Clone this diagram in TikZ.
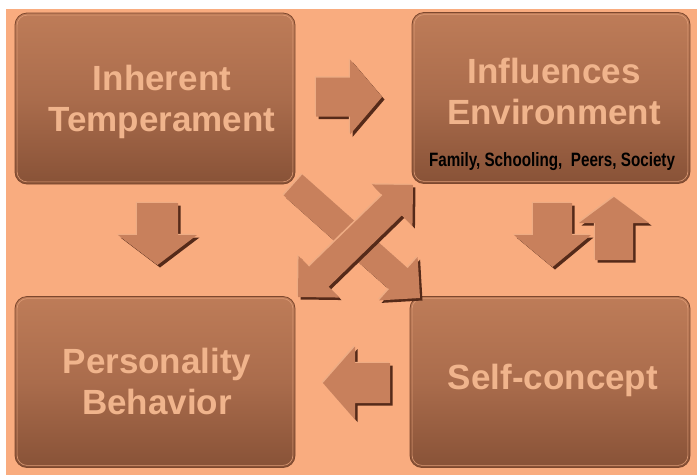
\documentclass[tikz,border=0pt]{standalone}
\usepackage{fontspec}
\setmainfont{Liberation Sans}
\usetikzlibrary{calc}
\definecolor{bg}{RGB}{249,172,127}
\definecolor{boxtop}{RGB}{190,124,88}
\definecolor{boxmid}{RGB}{170,108,76}
\definecolor{boxbot}{RGB}{136,82,55}
\definecolor{boxedge}{RGB}{125,72,46}
\definecolor{boxrim}{RGB}{222,156,118}
\definecolor{txt}{RGB}{240,180,140}
\definecolor{arrowc}{RGB}{200,128,92}
\definecolor{arrowdark}{RGB}{85,42,25}
\definecolor{arrowlight}{RGB}{238,172,132}
\tikzset{
  box/.style={rounded corners=12pt, top color=boxtop, bottom color=boxbot, middle color=boxmid,
    draw=boxedge, line width=0.8pt, minimum width=280pt, minimum height=171pt, inner sep=0pt},
  title/.style={text=txt, font=\bfseries\fontsize{35}{41}\selectfont, align=center},
  subtitle/.style={text=black, font=\bfseries, inner sep=0pt},
  blk/.style={fill=arrowc,
    preaction={fill=arrowdark, transform canvas={shift={(2.5pt,-2.5pt)}}},
    preaction={fill=arrowlight, transform canvas={shift={(-1.2pt,1.2pt)}}}},
}
% single block arrow: #2 tail centre, #3 tip, #4 half body width, #5 half head width, #6 head length
\newcommand{\blockarrow}[6][]{%
  \path[blk,#1] ($(#2)!#4!90:(#3)$)
    -- ($(#3)!#6!(#2)!#4!90:(#3)$)
    -- ($(#3)!#6!(#2)!#5!90:(#3)$)
    -- (#3)
    -- ($(#3)!#6!(#2)!#5!-90:(#3)$)
    -- ($(#3)!#6!(#2)!#4!-90:(#3)$)
    -- ($(#2)!#4!-90:(#3)$) -- cycle;}
% double block arrow between tips #2 and #3
\newcommand{\dblockarrow}[6][]{%
  \path[blk,#1] (#2)
    -- ($(#2)!#6!(#3)!#5!90:(#3)$)
    -- ($(#2)!#6!(#3)!#4!90:(#3)$)
    -- ($(#3)!#6!(#2)!#4!90:(#3)$)
    -- ($(#3)!#6!(#2)!#5!90:(#3)$)
    -- (#3)
    -- ($(#3)!#6!(#2)!#5!-90:(#3)$)
    -- ($(#3)!#6!(#2)!#4!-90:(#3)$)
    -- ($(#2)!#6!(#3)!#4!-90:(#3)$)
    -- ($(#2)!#6!(#3)!#5!-90:(#3)$)
    -- cycle;}
\begin{document}
\begin{tikzpicture}[x=1pt,y=-1pt]
  \useasboundingbox (0,0) rectangle (697,475);
  \fill[white] (0,0) rectangle (697,475);
  \fill[bg] (6,9) rectangle (697,475);

  % boxes
  \node[box] (tl) at (155,98.5) {};
  \node[box, minimum width=278pt] (tr) at (551,98) {};
  \node[box] (bl) at (155,382) {};
  \node[box] (br) at (550,382) {};
  \foreach \b in {tl,tr,bl,br}{
    \draw[boxrim, line width=0.6pt, rounded corners=10pt]
      ($(\b.south west)+(2.5,-2.5)$) rectangle ($(\b.north east)+(-2.5,2.5)$);
  }

  % texts
  \node[title] (tlt) at ($(tl)+(7,3)$) {Inherent\\Temperament};
  \node[title] (trt) at ($(tr)+(3,-7)$) {Influences\\Environment};
  \node[subtitle] (trs) at ($(tr)+(1,64)$)
    {\resizebox{246pt}{14pt}{Family, Schooling,~~Peers, Society}};
  \node[title] (blt) at ($(bl)+(2,-1)$) {Personality\\Behavior};
  \node[title] (brt) at ($(br)+(3,-2)$) {Self-concept};

  % arrow end points
  \coordinate (ra) at (316,97);   \coordinate (rb) at (382,97);
  \coordinate (da) at (157.5,203); \coordinate (db) at (157.5,265);
  \coordinate (ea) at (552.5,203); \coordinate (eb) at (552.5,267);
  \coordinate (ua) at (614,260);  \coordinate (ub) at (614,197);
  \coordinate (la) at (390,383);  \coordinate (lb) at (323,383);
  \coordinate (xa) at (293,185);  \coordinate (xb) at (420,298);
  \coordinate (ya) at (298,297);  \coordinate (yb) at (413,185);

  % arrows
  \blockarrow{ra}{rb}{19.5pt}{37.5pt}{32pt}
  \blockarrow{da}{db}{20.5pt}{39.5pt}{30pt}
  \blockarrow{ea}{eb}{19.5pt}{38.5pt}{32pt}
  \blockarrow{ua}{ub}{19pt}{35pt}{26pt}
  \blockarrow{la}{lb}{20pt}{36.5pt}{32pt}
  \blockarrow{xa}{xb}{14pt}{29pt}{29pt}
  \dblockarrow{ya}{yb}{14pt}{29pt}{29pt}
\end{tikzpicture}
\end{document}
